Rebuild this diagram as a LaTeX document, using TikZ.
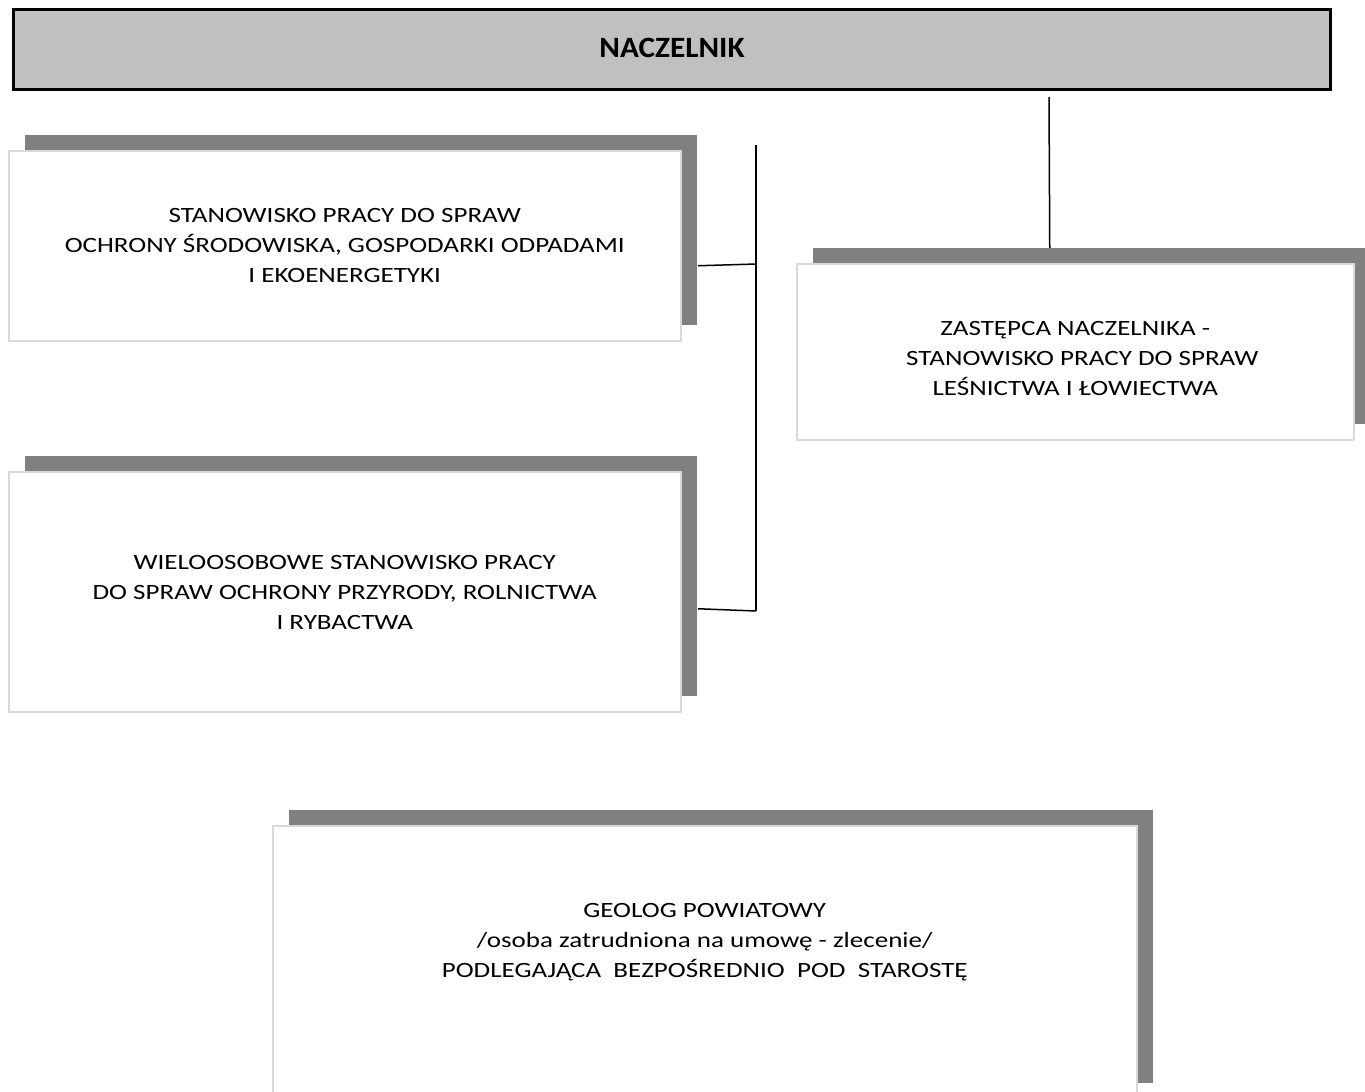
\documentclass[tikz,border=0pt]{standalone}
\usepackage{fontspec}
\usetikzlibrary{shadows}
\setmainfont{Carlito}
\newfontfamily\boxfont[FakeStretch=1.24]{Carlito}
\newfontfamily\headfont[FakeStretch=1.06]{Carlito}
\definecolor{shadowgray}{HTML}{808080}
\definecolor{cardline}{HTML}{D9D9D9}
\definecolor{headfill}{HTML}{C0C0C0}
\begin{document}
\begin{tikzpicture}[x=1pt,y=-1pt,
  card/.style={fill=white, draw=cardline, line width=1.5pt, anchor=north west, inner sep=0pt,
    drop shadow={shadow xshift=16.5pt, shadow yshift=16pt, opacity=1, fill=shadowgray}},
  txt/.style={align=center, inner sep=0pt, font=\boxfont\fontsize{21.8}{30}\selectfont},
  wire/.style={draw=black, line width=1.5pt}]
\useasboundingbox (0,0) rectangle (1365,1092);
\clip (0,0) rectangle (1365,1092);
% head bar
\node[draw=black, line width=2.5pt, fill=headfill, anchor=north west, inner sep=0pt,
  minimum width=1317pt, minimum height=80pt] (head) at (12,8) {};
\node[font=\headfont\bfseries\fontsize{29.5}{32}\selectfont, inner sep=0pt] (headtxt) at (672,48) {NACZELNIK};
% boxes
\node[card, minimum width=672pt, minimum height=190pt] (b1) at (8,150) {};
\node[txt] (t1) at (b1.center) {STANOWISKO PRACY DO SPRAW\\OCHRONY ŚRODOWISKA, GOSPODARKI ODPADAMI\\I EKOENERGETYKI};
\node[card, minimum width=672pt, minimum height=240pt] (b2) at (8,471) {};
\node[txt] (t2) at ([yshift=-1pt]b2.center) {WIELOOSOBOWE STANOWISKO PRACY\\DO SPRAW OCHRONY PRZYRODY, ROLNICTWA\\I RYBACTWA};
\node[card, minimum width=557pt, minimum height=176pt] (b3) at (796,263) {};
\node[txt] (t3) at ([yshift=-7pt]b3.center) {ZASTĘPCA NACZELNIKA -\\\hspace*{14pt}STANOWISKO PRACY DO SPRAW\\LEŚNICTWA I ŁOWIECTWA};
\node[card, minimum width=864pt, minimum height=273pt] (b4) at (272,825) {};
\node[txt] (t4) at ([yshift=20pt]b4.center) {GEOLOG POWIATOWY\\/osoba zatrudniona na umowę - zlecenie/\\PODLEGAJĄCA\ \ BEZPOŚREDNIO\ \ POD\ \ STAROSTĘ};
% connectors
\coordinate (bus top) at (756,145);
\coordinate (bus bot) at (756,611);
\coordinate (j1) at (756,264);
\draw[wire] (bus top) -- (bus bot);
\draw[wire] ([xshift=16.5pt,yshift=-20pt]b1.east) -- (j1);
\draw[wire] ([xshift=16.5pt,yshift=-17pt]b2.east) -- (bus bot);
\coordinate (z top) at (1049,97);
\draw[wire] (z top) -- ([xshift=1049pt-1074.5pt,yshift=15pt]b3.north);
\end{tikzpicture}
\end{document}
